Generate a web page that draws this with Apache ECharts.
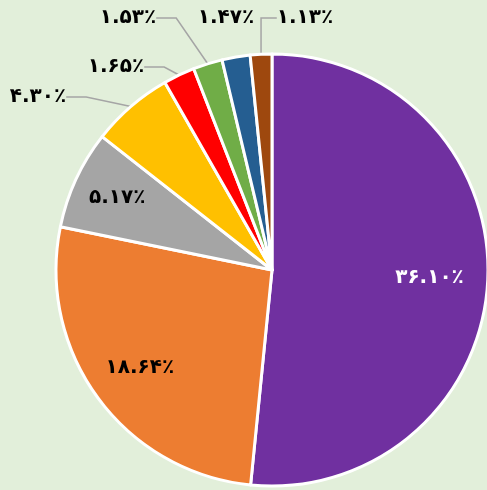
<!DOCTYPE html>
<html style="height: 100%">
<head>
    <meta charset="utf-8">
</head>
<body style="height: 100%; margin: 0; background: #E2EFDA">
<div id="container" style="width: 487px; height: 490px"></div>
<script type="text/javascript" src="https://cdn.jsdelivr.net/npm/echarts@6/dist/echarts.min.js"></script>
<script type="text/javascript">
// slice values (percent), clockwise from 12 o'clock
var values = [36.10, 18.64, 5.17, 4.30, 1.65, 1.53, 1.47, 1.13];
var labels = ['۳۶.۱۰٪', '۱۸.۶۴٪', '۵.۱۷٪', '۴.۳۰٪', '۱.۶۵٪', '۱.۵۳٪', '۱.۴۷٪', '۱.۱۳٪'];
var colors = ['#7030A0', '#ED7D31', '#A5A5A5', '#FFC000', '#FF0000', '#70AD47', '#255E91', '#9E480E'];
var insideCount = 3;

var cx = 272, cy = 270, R = 216;
// where the outside labels sit (label centres)
var outsidePos = [null, null, null, [38, 97], [116, 67], [128, 18], [226, 18], [305, 18]];
var insideRatio = [0.73, 0.76, 0.79];
var noLeader = [6];

var total = values.reduce(function (a, b) { return a + b; }, 0);
var midAngle = [];
var acc = 0;
for (var i = 0; i < values.length; i++) {
    midAngle.push((acc + values[i] / 2) / total * 2 * Math.PI);
    acc += values[i];
}

var dom = document.getElementById('container');
var myChart = echarts.init(dom);

var data = values.map(function (v, i) {
    var inside = i < insideCount;
    return {
        value: v,
        name: labels[i],
        itemStyle: { color: colors[i] },
        label: {
            position: inside ? 'inside' : 'outside',
            color: i === 0 ? '#ffffff' : '#000000'
        },
        labelLine: { show: !inside && noLeader.indexOf(i) < 0 }
    };
});

var option = {
    backgroundColor: '#E2EFDA',
    animation: false,
    series: [{
        type: 'pie',
        center: [cx, cy],
        radius: R,
        startAngle: 90,
        clockwise: true,
        avoidLabelOverlap: false,
        itemStyle: { borderColor: '#ffffff', borderWidth: 3 },
        label: {
            show: true,
            formatter: '{b}',
            fontFamily: 'DejaVu Sans',
            fontWeight: 'bold',
            fontSize: 20
        },
        labelLine: {
            length: 15,
            length2: 20,
            lineStyle: { color: '#A5A5A5', width: 1.5 }
        },
        labelLayout: function (params) {
            var i = params.dataIndex;
            if (i < insideCount) {
                var r = R * insideRatio[i];
                return {
                    x: cx + r * Math.sin(midAngle[i]),
                    y: cy - r * Math.cos(midAngle[i]),
                    align: 'center',
                    verticalAlign: 'middle'
                };
            }
            return {
                x: outsidePos[i][0],
                y: outsidePos[i][1],
                align: 'center',
                verticalAlign: 'middle'
            };
        },
        data: data
    }]
};

myChart.setOption(option);
</script>
</body>
</html>
